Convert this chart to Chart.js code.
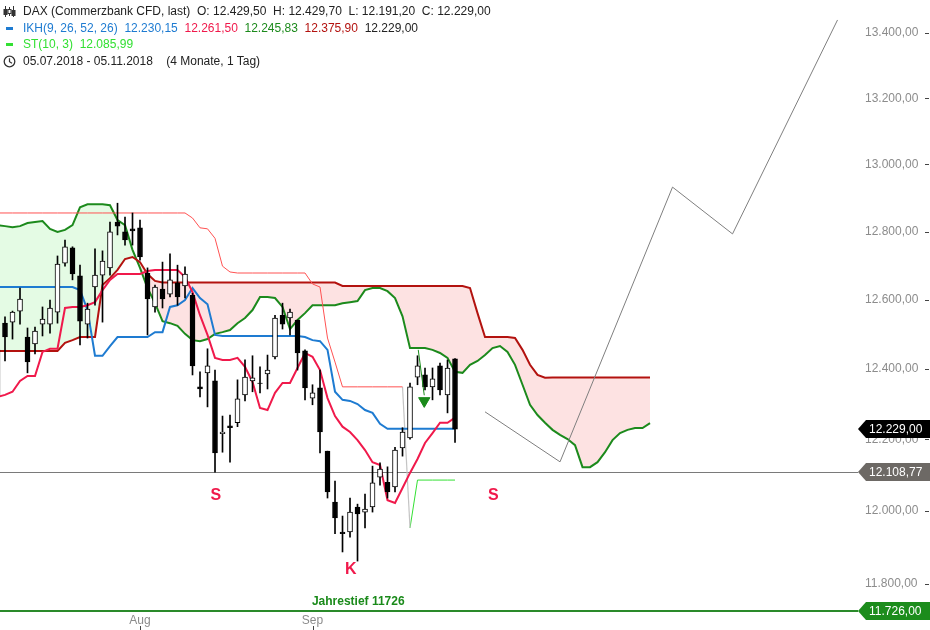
<!DOCTYPE html>
<html>
<head>
<meta charset="utf-8">
<title>DAX Ichimoku</title>
<script src="https://cdn.jsdelivr.net/npm/chart.js@4.4.1/dist/chart.umd.min.js"></script>
<style>
html,body{margin:0;padding:0;background:#fff;}
#wrap{position:relative;width:930px;height:630px;overflow:hidden;}
#info{position:absolute;left:0;top:3px;font:12px "Liberation Sans",Arial,sans-serif;color:#222;white-space:pre;}
#info .row{position:relative;height:16.5px;line-height:16.5px;padding-left:23px;}
#info svg{position:absolute;left:0;top:0;}
</style>
</head>
<body>
<div id="wrap">
<canvas id="chart" width="930" height="630"></canvas>
<div id="info"></div>
</div>
<script>
// daily candles, index 0 = 05.07.2018
const candleOpen = [12326,12532,12535,12567,12492,12472,12529,12529,12564,12707,
12752,12670,12529,12637,12672,12693,12828,12799,12808,12811,
12678,12579,12631,12616,12649,12640,12613,12349,12389,12366,
12216,12238,12247,12326,12366,12360,12386,12435,12555,12547,
12541,12452,12317,12346,12167,12025,11942,11942,12011,11997,
12011,12094,12080,12067,12176,12204,12377,12383,12349,12409,
12326,12429.5];
const candleHigh = [12475,12550,12567,12634,12518,12521,12579,12599,12728,12775,
12755,12701,12590,12749,12743,12828,12884,12843,12855,12834,
12693,12643,12710,12734,12701,12696,12619,12392,12458,12397,
12266,12269,12369,12426,12438,12406,12440,12555,12590,12573,
12541,12455,12355,12397,12167,12083,11986,12036,12019,12047,
12125,12134,12123,12178,12233,12360,12438,12403,12403,12417,
12426,12429.7];
const candleLow = [12320,12423,12486,12529,12389,12443,12495,12503,12532,12698,
12658,12469,12489,12584,12535,12672,12790,12760,12760,12716,
12498,12564,12576,12608,12584,12605,12383,12320,12292,12108,
12164,12136,12236,12309,12335,12332,12343,12429,12515,12498,
12397,12312,12298,12162,12036,11937,11887,11928,11862,11953,
11997,12072,12036,12053,12153,12201,12355,12340,12312,12326,
12275,12191.2];
const candleClose = [12455,12492,12564,12602,12420,12509,12544,12576,12704,12755,
12675,12538,12573,12672,12713,12799,12816,12775,12802,12725,
12602,12637,12602,12658,12608,12675,12409,12343,12409,12162,
12221,12233,12315,12377,12375,12359,12397,12547,12529,12564,
12446,12346,12332,12221,12053,11981,11937,11997,11992,12005,
12078,12117,12053,12170,12221,12349,12409,12349,12372,12340,
12403,12229];

// Ichimoku (IKH 9, 26, 52, 26)
const tenkan = [12320,12326,12335,12366,12380,12380,12449,12458,12458,12576,
12579,12579,12584,12593,12628,12658,12675,12675,12675,12675,
12684,12687,12687,12687,12687,12666,12622,12555,12498,12432,
12426,12426,12432,12406,12363,12289,12283,12332,12360,12360,
12403,12446,12435,12397,12317,12266,12236,12221,12198,12170,
12136,12128,12030,12022,12064,12106,12145,12190,12218,12247,
12247,12261.5];
const kijun = [12637,12637,12637,12637,12637,12637,12637,12637,12637,12637,
12637,12628,12570,12438,12438,12466,12492,12492,12492,12492,
12492,12506,12506,12579,12584,12599,12634,12605,12587,12498,
12495,12495,12495,12495,12495,12495,12495,12495,12495,12495,
12495,12492,12483,12480,12455,12335,12312,12309,12300,12283,
12275,12244,12230,12230.15,12230.15,12230.15,12230.15,12230.15,12230.15,12230.15,
12230.15,12230.15];
// senkou spans, already shifted 26 days forward (88 days)
const spanA = [12819,12816,12813,12816,12825,12828,12831,12808,12799,12805,
12819,12872,12881,12881,12881,12878,12834,12819,12746,12693,
12634,12590,12538,12532,12524,12501,12483,12480,12486,12501,
12506,12512,12532,12547,12570,12608,12608,12605,12579,12515,
12541,12561,12584,12584,12584,12584,12590,12593,12596,12628,
12634,12634,12625,12605,12552,12460,12460,12460,12455,12446,
12432,12392,12389,12412,12423,12440,12460,12466,12449,12412,
12355,12298,12269,12247,12227,12213,12201,12184,12122,12122,
12136,12164,12198,12218,12227,12232,12232,12245.83];
const spanB = [12452,12452,12452,12452,12452,12452,12452,12452,12452,12475,
12483,12492,12492,12492,12643,12663,12687,12719,12725,12710,
12675,12655,12650,12650,12650,12650,12650,12650,12650,12650,
12650,12650,12650,12650,12650,12650,12650,12650,12650,12650,
12650,12650,12650,12650,12650,12650,12640,12640,12640,12640,
12640,12640,12640,12640,12640,12640,12640,12640,12640,12640,
12640,12640,12640,12634,12561,12492,12492,12492,12492,12489,
12455,12412,12383,12375,12375.9,12375.9,12375.9,12375.9,12375.9,12375.9,
12375.9,12375.9,12375.9,12375.9,12375.9,12375.9,12375.9,12375.9];

// SuperTrend (10, 3); turns bullish at index stFlip
const superTrend = [12855,12855,12855,12855,12855,12855,12855,12855,12855,12855,
12855,12855,12855,12855,12855,12855,12855,12855,12855,12855,
12855,12855,12855,12855,12855,12855,12840,12811,12808,12780,
12698,12681,12678,12678,12678,12678,12678,12678,12678,12678,
12678,12678,12646,12637,12489,12420,12349,12349,12349,12349,
12349,12349,12349,12349,12349,11953,12086,12086,12086,12086,
12086,12085.99];
const stFlip = 55;

// hand drawn projection + sell signal
const forecastX = [65,75,90,98,112];
const forecastY = [12278,12137,12932,12793,13441];
const signalX = [56.1,56.9];
const signalY = [12455,12325];
const arrowAt = {x:56.9, y:12309};

const lastClose = 12229;
const refLevel = 12108.77;
const yearLow = 11726;
const yTicks = [11800,12000,12200,12400,12600,12800,13000,13200,13400];
const monthTicks = [{value:19,label:"Aug"},{value:42,label:"Sep"}];
const notes = [
  {x:29.1, y:12044, text:"S", color:"#f0194b", font:"bold 16px"},
  {x:66.1, y:12044, text:"S", color:"#f0194b", font:"bold 16px"},
  {x:47.1, y:11838, text:"K", color:"#f0194b", font:"bold 16px"},
  {x:48.1, y:11752, text:"Jahrestief 11726", color:"#1a8a1a", font:"bold 12px"}
];

const FONT = '"Liberation Sans", Arial, sans-serif';

function de(v){
  const s = v.toFixed(2).split(".");
  return s[0].replace(/\B(?=(\d{3})+(?!\d))/g,".")+","+s[1];
}

// header
const n = candleOpen.length-1;
const info = document.getElementById("info");
info.innerHTML =
 '<div class="row"><svg width="18" height="16"><g stroke="#333" stroke-width="1" fill="none">'+
 '<line x1="5.5" y1="3" x2="5.5" y2="14"/><rect x="4" y="6.5" width="3" height="5" fill="#333"/>'+
 '<line x1="9.5" y1="4" x2="9.5" y2="13"/><rect x="8" y="6.5" width="3" height="4" fill="#fff"/>'+
 '<line x1="13.5" y1="3" x2="13.5" y2="14"/><rect x="12" y="7.5" width="3" height="5" fill="#333"/></g></svg>'+
 'DAX (Commerzbank CFD, last)  O: '+de(candleOpen[n])+'  H: '+de(candleHigh[n])+'  L: '+de(candleLow[n])+'  C: '+de(candleClose[n])+'</div>'+
 '<div class="row"><svg width="18" height="16"><rect x="6" y="7" width="7" height="3" fill="#1e7bd1"/></svg>'+
 '<span style="color:#1e7bd1">IKH(9, 26, 52, 26)  '+de(kijun[n])+'</span>  '+
 '<span style="color:#f0194b">'+de(tenkan[n])+'</span>  '+
 '<span style="color:#1c8a1c">'+de(spanA[spanA.length-1])+'</span>  '+
 '<span style="color:#b3120f">'+de(spanB[spanB.length-1])+'</span>  '+
 '<span style="color:#222">'+de(candleClose[n])+'</span></div>'+
 '<div class="row"><svg width="18" height="16"><rect x="6" y="7" width="7" height="3" fill="#33e033"/></svg>'+
 '<span style="color:#33e033">ST(10, 3)  '+de(superTrend[n])+'</span></div>'+
 '<div class="row"><svg width="18" height="16"><circle cx="9.5" cy="8.5" r="5.3" stroke="#333" stroke-width="1.3" fill="none"/>'+
 '<polyline points="9.5,5.3 9.5,8.7 12,10.3" stroke="#333" stroke-width="1.2" fill="none"/></svg>'+
 '05.07.2018 - 05.11.2018    (4 Monate, 1 Tag)</div>';

const pts = arr => arr.map((v,i)=>({x:i,y:v}));
const wickData = candleOpen.map((o,i)=>({x:i,y:[candleLow[i],candleHigh[i]]}));
const bodyData = candleOpen.map((o,i)=>({x:i,y:[o,candleClose[i]]}));
const bodyColors = candleOpen.map((o,i)=>candleClose[i]>=o ? "#ffffff" : "#000000");
const stRed = superTrend.slice(0,stFlip).map((v,i)=>({x:i,y:v}));
const stSwitch = [{x:stFlip-1,y:superTrend[stFlip-1]},{x:stFlip,y:superTrend[stFlip]}];
const stGreen = superTrend.slice(stFlip).map((v,i)=>({x:i+stFlip,y:v}));
const forecast = forecastX.map((x,i)=>({x:x,y:forecastY[i]}));
const signal = signalX.map((x,i)=>({x:x,y:signalY[i]}));

const line = (label,data,color,width,order,extra) => Object.assign({
  type:"line", label:label, data:data, borderColor:color, borderWidth:width,
  pointRadius:0, tension:0, fill:false, order:order
}, extra||{});

const datasets = [
  line("Signal", signal, "#1a8a1a", 1, 0),
  line("Pfeil", [arrowAt], "#1a8a1a", 1, 0, {showLine:false, pointRadius:6.5, pointStyle:"triangle", rotation:180, backgroundColor:"#1a8a1a"}),
  {type:"bar", label:"Kerzen", data:bodyData, backgroundColor:bodyColors, borderColor:"#000", borderWidth:1, borderSkipped:false, barThickness:5, grouped:false, order:1},
  {type:"bar", label:"Dochte", data:wickData, backgroundColor:"#000", barThickness:1, grouped:false, order:2},
  line("Tenkan", pts(tenkan), "#f0194b", 2, 3),
  line("Kijun", pts(kijun), "#1e7bd1", 2, 4),
  line("ST rot", stRed, "#ff5252", 1, 5),
  line("ST Wechsel", stSwitch, "#c4c4c4", 1.2, 5),
  line("ST grün", stGreen, "#33e033", 1, 5),
  line("Prognose", forecast, "#7f7f7f", 1, 6),
  line("Senkou B", pts(spanB), "#b3120f", 2, 8)
];
const spanBIndex = datasets.length-1;
datasets.push(line("Senkou A", pts(spanA), "#1c8a1c", 2, 9, {fill:{target:spanBIndex, above:"#e4fbe4", below:"#fde2e2"}}));

function tag(ctx, x, y, text, color){
  ctx.fillStyle = color;
  ctx.beginPath();
  ctx.moveTo(x, y);
  ctx.lineTo(x+8, y-9);
  ctx.lineTo(930, y-9);
  ctx.lineTo(930, y+9);
  ctx.lineTo(x+8, y+9);
  ctx.closePath();
  ctx.fill();
  ctx.fillStyle = "#fff";
  ctx.font = "12px "+FONT;
  ctx.textAlign = "left";
  ctx.textBaseline = "middle";
  ctx.fillText(text, x+11, y+0.5);
}

const overlay = {
  id:"overlay",
  beforeDatasetsDraw(chart){
    const {ctx, chartArea:a, scales:{y}} = chart;
    ctx.save();
    const py = Math.round(y.getPixelForValue(refLevel))+0.5;
    ctx.strokeStyle = "#7a7a7a"; ctx.lineWidth = 1;
    ctx.beginPath(); ctx.moveTo(a.left, py); ctx.lineTo(a.right, py); ctx.stroke();
    const gy = y.getPixelForValue(yearLow);
    ctx.strokeStyle = "#2a8a2a"; ctx.lineWidth = 2;
    ctx.beginPath(); ctx.moveTo(a.left, gy); ctx.lineTo(a.right, gy); ctx.stroke();
    ctx.restore();
  },
  afterDraw(chart){
    const {ctx, chartArea:a, scales:{x,y}} = chart;
    ctx.save();
    // tick dashes
    ctx.strokeStyle = "#444"; ctx.lineWidth = 1;
    yTicks.forEach(v=>{
      const py = Math.round(y.getPixelForValue(v))+0.5;
      ctx.beginPath(); ctx.moveTo(925, py); ctx.lineTo(929, py); ctx.stroke();
    });
    monthTicks.forEach(t=>{
      const px = Math.round(x.getPixelForValue(t.value))+0.5;
      ctx.beginPath(); ctx.moveTo(px, 626); ctx.lineTo(px, 630); ctx.stroke();
    });
    // notes
    notes.forEach(t=>{
      ctx.fillStyle = t.color;
      ctx.font = t.font+" "+FONT;
      ctx.textAlign = "center";
      ctx.textBaseline = "middle";
      ctx.fillText(t.text, x.getPixelForValue(t.x), y.getPixelForValue(t.y));
    });
    // price tags
    tag(ctx, a.right, Math.round(y.getPixelForValue(refLevel)), de(refLevel), "#6d6965");
    tag(ctx, a.right, Math.round(y.getPixelForValue(yearLow)), de(yearLow), "#1c8c1c");
    tag(ctx, a.right, Math.round(y.getPixelForValue(lastClose)), de(lastClose), "#000");
    ctx.restore();
  }
};

Chart.defaults.font.family = FONT;
Chart.defaults.font.size = 12;

new Chart(document.getElementById("chart"), {
  type:"bar",
  data:{datasets:datasets},
  options:{
    responsive:false,
    animation:false,
    layout:{padding:0, autoPadding:false},
    plugins:{legend:{display:false}, tooltip:{enabled:false}},
    scales:{
      x:{
        type:"linear", min:0.333, max:114.73, offset:false, bounds:"data",
        grid:{display:false, drawTicks:false}, border:{display:false},
        ticks:{color:"#8c8c8c", padding:1, maxRotation:0, autoSkip:false,
          callback:v=>{ const t = monthTicks.find(m=>m.value===v); return t ? t.label : ""; }},
        afterBuildTicks:s=>{ s.ticks = monthTicks.map(t=>({value:t.value})); },
        afterFit:s=>{ s.height = 18; s.paddingLeft = 0; s.paddingRight = 0; }
      },
      y:{
        type:"logarithmic", position:"right", min:11723.3, max:13503.1, bounds:"data",
        grid:{display:false, drawTicks:false}, border:{display:false},
        ticks:{color:"#8c8c8c", padding:7, callback:v=>de(v)},
        afterBuildTicks:s=>{ s.ticks = yTicks.map(v=>({value:v})); },
        afterFit:s=>{ s.width = 72; s.paddingTop = 0; s.paddingBottom = 0; }
      }
    }
  },
  plugins:[overlay]
});
</script>
</body>
</html>
